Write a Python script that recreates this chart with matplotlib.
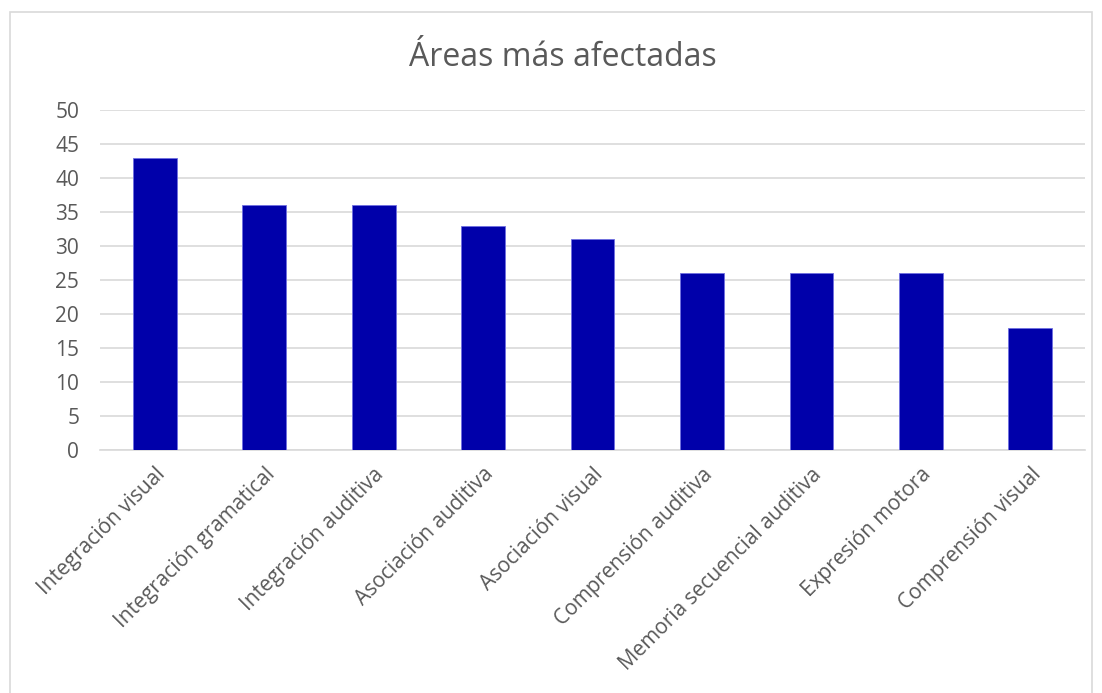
import matplotlib

matplotlib.use("Agg")
import matplotlib.pyplot as plt
from matplotlib.patches import Rectangle

categories = [
    "Integración visual",
    "Integración gramatical",
    "Integración auditiva",
    "Asociación auditiva",
    "Asociación visual",
    "Comprensión auditiva",
    "Memoria secuencial auditiva",
    "Expresión motora",
    "Comprensión visual",
]
values = [43, 36, 36, 33, 31, 26, 26, 26, 18]
y_ticks = [0, 5, 10, 15, 20, 25, 30, 35, 40, 45, 50]

plt.rcParams["font.family"] = ["Open Sans", "DejaVu Sans"]

W, H = 1102, 693
fig = plt.figure(figsize=(W / 100, H / 100), dpi=100)
ax = fig.add_axes([100 / W, 1 - 450 / H, 985 / W, 340 / H])

x = list(range(len(categories)))
ax.bar(x, values, width=0.40, color="#0000AA", edgecolor="#6f6fe0", linewidth=0.6, zorder=3)

ax.set_xlim(-0.5, len(categories) - 0.5)
ax.set_ylim(0, 50)
ax.set_yticks(y_ticks)
ax.set_xticks(x)
ax.set_xticklabels(categories, rotation=45, ha="right", rotation_mode="anchor")
ax.tick_params(axis="both", length=0, colors="#595959", labelsize=15)
ax.tick_params(axis="y", pad=15)
ax.tick_params(axis="x", pad=10)
ax.grid(axis="y", color="#d9d9d9", linewidth=1.2, zorder=0)
for side in ["top", "right", "left"]:
    ax.spines[side].set_visible(False)
ax.spines["bottom"].set_color("#d9d9d9")
ax.spines["bottom"].set_linewidth(1.2)

fig.text(563 / W, 1 - 57 / H, "Áreas más afectadas", ha="center", va="center",
         fontsize=23, color="#595959")

fig.patches.append(Rectangle((10 / W, -0.01), 1082 / W, 1 - 12 / H + 0.01,
                             transform=fig.transFigure, fill=False,
                             edgecolor="#d9d9d9", linewidth=1.2))

fig.savefig("out.png", dpi=100, facecolor="white")
